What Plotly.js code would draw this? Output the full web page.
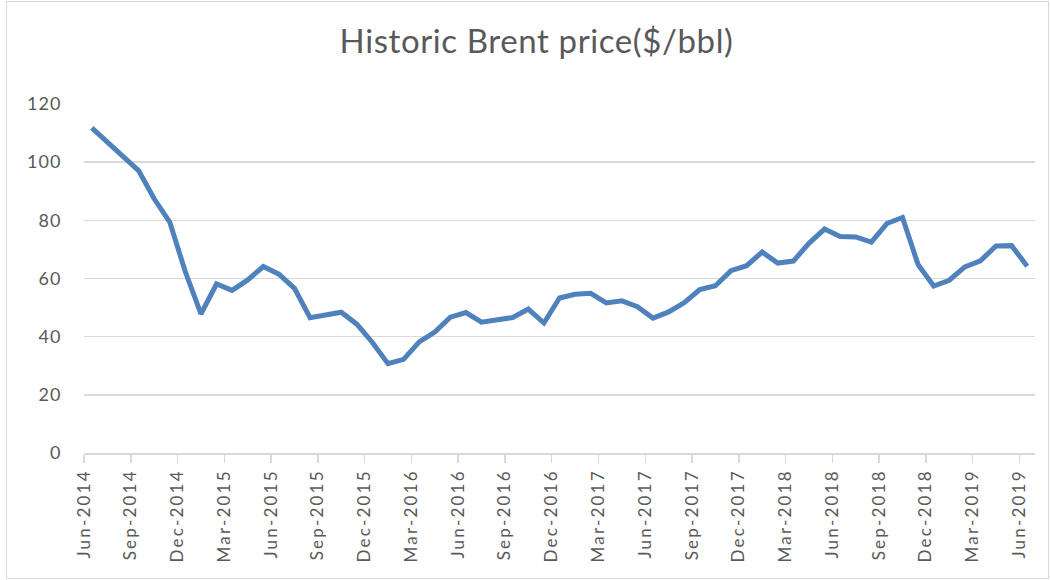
<!DOCTYPE html>
<html>
<head>
<meta charset="utf-8">
<script src="https://cdn.plot.ly/plotly-3.0.1.min.js"></script>
<style>
  body { margin: 0; padding: 0; background: #ffffff; }
  #wrap { position: relative; width: 1050px; height: 580px; }
  #chart { width: 1050px; height: 580px; }
  #frame { position: absolute; left: 6px; top: 1px; width: 1041px; height: 576px; border: 1px solid #d9d9d9; pointer-events: none; }
  .xtick text { letter-spacing: 2.2px; }
  .ytick text { letter-spacing: 1px; }
  .gtitle { letter-spacing: 0.6px; }
</style>
</head>
<body>
<div id="wrap"><div id="chart"></div><div id="frame"></div></div>
<script>
const months = [
  "Jun-2014","Jul-2014","Aug-2014","Sep-2014","Oct-2014","Nov-2014","Dec-2014",
  "Jan-2015","Feb-2015","Mar-2015","Apr-2015","May-2015","Jun-2015","Jul-2015","Aug-2015","Sep-2015","Oct-2015","Nov-2015","Dec-2015",
  "Jan-2016","Feb-2016","Mar-2016","Apr-2016","May-2016","Jun-2016","Jul-2016","Aug-2016","Sep-2016","Oct-2016","Nov-2016","Dec-2016",
  "Jan-2017","Feb-2017","Mar-2017","Apr-2017","May-2017","Jun-2017","Jul-2017","Aug-2017","Sep-2017","Oct-2017","Nov-2017","Dec-2017",
  "Jan-2018","Feb-2018","Mar-2018","Apr-2018","May-2018","Jun-2018","Jul-2018","Aug-2018","Sep-2018","Oct-2018","Nov-2018","Dec-2018",
  "Jan-2019","Feb-2019","Mar-2019","Apr-2019","May-2019","Jun-2019"
];
const brentPrice = [
  111.8, 106.8, 101.6, 97.1, 87.4, 79.4, 62.3,
  47.8, 58.1, 55.9, 59.5, 64.1, 61.5, 56.6, 46.5, 47.6, 48.4, 44.3, 38.0,
  30.7, 32.2, 38.2, 41.6, 46.7, 48.3, 45.0, 45.8, 46.6, 49.5, 44.7, 53.3,
  54.6, 54.9, 51.6, 52.3, 50.3, 46.4, 48.5, 51.7, 56.2, 57.5, 62.7, 64.4,
  69.1, 65.3, 66.0, 72.1, 77.0, 74.4, 74.3, 72.5, 78.9, 81.0, 64.8, 57.4,
  59.4, 64.0, 66.1, 71.2, 71.3, 64.2
];
const tickLabels = ["Jun-2014","Sep-2014","Dec-2014","Mar-2015","Jun-2015","Sep-2015","Dec-2015",
  "Mar-2016","Jun-2016","Sep-2016","Dec-2016","Mar-2017","Jun-2017","Sep-2017","Dec-2017",
  "Mar-2018","Jun-2018","Sep-2018","Dec-2018","Mar-2019","Jun-2019"];
const titleText = "Historic Brent price($/bbl)";

const xIdx = months.map((m, i) => i);
const tickPos = tickLabels.map(t => months.indexOf(t) - 0.5);

const grey = "#595959";
const fontFam = "Lato, 'Open Sans', sans-serif";

const trace = {
  x: xIdx,
  y: brentPrice,
  type: "scatter",
  mode: "lines",
  line: { color: "#4F81BD", width: 5 },
  hoverinfo: "y"
};

const layout = {
  width: 1050,
  height: 580,
  margin: { l: 84, r: 15, t: 104, b: 127 },
  paper_bgcolor: "#ffffff",
  plot_bgcolor: "#ffffff",
  showlegend: false,
  title: {
    text: titleText,
    font: { family: fontFam, size: 33, color: grey },
    xref: "container", x: 0.511, xanchor: "center",
    yref: "container", y: 0.929, yanchor: "middle"
  },
  xaxis: {
    range: [-0.5, 60.5],
    tickmode: "array",
    tickvals: tickPos,
    ticktext: tickLabels,
    ticklabelshift: 7.8,
    tickangle: -90,
    ticks: "outside",
    ticklen: 8,
    tickwidth: 1.5,
    tickcolor: "#d9d9d9",
    showgrid: false,
    zeroline: false,
    showline: true,
    linecolor: "#d9d9d9",
    linewidth: 1.5,
    tickfont: { family: fontFam, size: 17, color: grey },
    fixedrange: true
  },
  yaxis: {
    range: [0, 120],
    tickmode: "linear",
    tick0: 0,
    dtick: 20,
    showgrid: true,
    gridcolor: "#d9d9d9",
    gridwidth: 1.5,
    zeroline: false,
    showline: false,
    ticks: "outside",
    ticklen: 18,
    tickcolor: "rgba(0,0,0,0)",
    tickfont: { family: fontFam, size: 18, color: grey },
    fixedrange: true
  }
};

Plotly.newPlot("chart", [trace], layout, { displayModeBar: false, staticPlot: true });
</script>
</body>
</html>
